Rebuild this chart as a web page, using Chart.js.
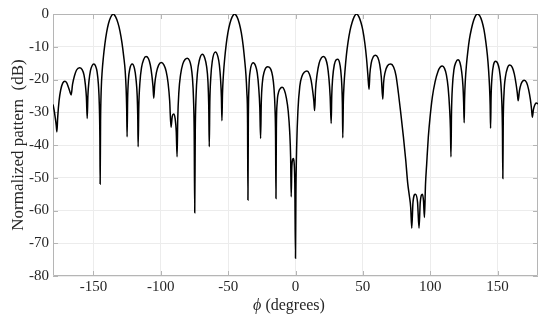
<!DOCTYPE html>
<html>
<head>
<meta charset="utf-8">
<script src="https://cdn.jsdelivr.net/npm/chart.js@4/dist/chart.umd.min.js"></script>
<style>
html,body{margin:0;padding:0;background:#fff;}
#wrap{width:550px;height:325px;position:relative;}
</style>
</head>
<body>
<div id="wrap"><canvas id="c"></canvas></div>
<script>
// angle (degrees)
const phi = [
-180,-179.2,-178.3,-177.6,-177.1,-176.5,-175.5,-174.3,-172.8,-171.2,-169.8,-168.6,-167.4,-166.5,
-165.5,-164,-162.5,-160.3,-158.5,-157,-156,-155.2,-154.6,
-154.1,-153.3,-152.2,-151,-149.7,-148.4,-147.3,-146.3,-145.6,-145.2,-145.0,
-144.7,-144.2,-143.5,-142.6,-141.5,-140.2,-138.8,-137.2,-135.3,-133.5,-131.8,-130.3,-128.8,-127.5,-126.4,-125.7,-125.3,-125.0,
-124.6,-124,-123,-121.2,-119.5,-118.4,-117.5,-117.1,-116.8,
-116.3,-115.5,-114.3,-112.7,-110.9,-109.2,-107.8,-106.6,-105.8,-105.2,
-104.5,-103.3,-101.6,-99.6,-97.6,-96,-94.6,-93.4,-92.4,
-91.5,-90.4,-89.4,-88.5,-87.9,
-87.4,-86.6,-85.3,-83.7,-82,-80.3,-78.7,-77.5,-76.5,-75.7,-75.2,-74.8,
-74.4,-73.8,-72.8,-71.4,-69.2,-67.3,-66,-65,-64.4,-64.0,
-63.6,-62.9,-61.8,-59.5,-57.6,-56.5,-55.6,-55.0,-54.6,
-54.2,-53.5,-52.6,-51.5,-50.2,-48.7,-47,-45.2,-43.4,-41.7,-40.2,-38.9,-37.8,-36.8,-36.1,-35.6,-35.3,
-35.0,-34.5,-33.6,-31.4,-29.6,-28.4,-27.3,-26.5,-25.9,
-25.4,-24.6,-23.2,-20.5,-18.3,-17,-16,-15.2,-14.8,-14.5,
-14.2,-13.6,-12.5,-11,-9.9,-8.3,-6.8,-5.4,-4.3,-3.6,-3.2,
-2.7,-1.6,-1.0,-0.5,0,
0.3,0.9,1.8,3.2,4.8,6.5,8.5,10.3,11.6,12.7,13.6,14.2,
14.9,16,17.5,19.2,20.8,22.4,23.7,24.8,25.7,26.5,
26.9,27.6,28.8,30.2,31.4,32.6,33.6,34.4,34.8,35.1,
35.5,36.1,36.8,37.8,39.0,40.5,42.0,43.6,45.3,47.0,48.6,50.0,51.5,52.7,53.7,54.6,
55.2,56.2,57.7,59.4,61.1,62.5,63.7,64.8,
65.4,66.5,68.3,70.7,72.8,74.6,76.4,78.2,80.1,81.8,83.3,84.5,85.5,86.3,
87.2,89.0,90.6,91.7,92.6,94.2,95.0,95.7,
96.5,97.4,98.6,99.9,101.6,103.6,105.7,107.5,109.0,110.6,112,113.3,114.4,115.0,115.4,
115.8,116.5,117.6,119,120.6,122.1,123.3,124.3,124.8,125.2,
125.5,126.1,126.9,127.9,129.1,130.6,132.2,133.7,135.2,136.8,138.4,139.9,141.2,142.4,143.3,144.0,144.5,144.8,
145.2,145.9,147,148.5,150,151.3,152.4,153.2,153.6,153.9,
154.2,154.8,155.8,157.3,159.1,160.9,162.4,163.7,164.6,165.3,
166.2,167.5,169.8,171.6,173,174.3,175.2,175.8,
176.6,177.6,178.7,180
];
// normalized pattern (dB)
const pattern = [
-27.6,-29.3,-31.8,-34,-36,-31.5,-26.5,-23.2,-21.1,-20.5,-21.0,-22.3,-23.8,-24.7,
-21.5,-18.8,-17.1,-16.4,-16.9,-18.6,-21.5,-25.5,-31.9,
-25,-20.5,-17.3,-15.8,-15.3,-15.9,-17.6,-21.5,-28,-38,-51.9,
-33,-23,-17.5,-13.2,-9.2,-5.6,-2.9,-1.0,0,-0.9,-2.7,-5.2,-8.8,-13,-17.5,-23,-29,-37.5,
-26,-20,-16.8,-15.3,-16.7,-19.8,-25,-31,-40.5,
-28,-21,-16.4,-13.9,-13.0,-13.6,-15.5,-18.8,-22,-25.7,
-21.5,-18,-15.6,-14.8,-15.6,-17.5,-21,-26.5,-34.6,
-31.3,-30.5,-31.8,-36,-43.6,
-32,-24,-18.5,-15.3,-13.9,-13.5,-14.2,-16,-19.5,-26,-36,-60.7,
-36,-25,-18,-14.2,-12.3,-13.5,-16,-20.5,-28,-40.5,
-27,-19.5,-14.5,-11.6,-13,-15.6,-20,-25.5,-32.6,
-24.5,-18.5,-13.8,-9.5,-5.8,-2.9,-0.9,0,-0.9,-2.9,-5.8,-9.5,-13.8,-18.5,-24,-32,-56.8,
-32,-22,-17.3,-14.9,-15.9,-18,-22.5,-28.5,-38.0,
-27,-21,-17.6,-16.1,-16.9,-19,-22.5,-29,-37,-56.3,
-35,-27,-23.8,-22.6,-22.4,-23.2,-25.6,-29.7,-36,-44,-55.8,
-46.5,-44.1,-45.5,-52,-74.6,
-55,-40,-29.5,-22,-19,-17.8,-17.4,-18.3,-20.3,-23.3,-26.5,-29.5,
-23,-18.5,-15.1,-13.4,-13.0,-13.7,-15.8,-19.6,-25,-33.4,
-25,-19.5,-15.5,-14.0,-13.8,-14.7,-17.3,-22,-27.5,-37.8,
-27,-21,-17,-12.5,-8.6,-5.0,-2.6,-0.8,0,-0.8,-2.6,-5.0,-9,-13.5,-18.5,-23.0,
-18.3,-15,-13.1,-12.6,-13.3,-15.4,-19.3,-26.0,
-21,-17.8,-15.8,-15.3,-16.2,-18.8,-24.2,-30.5,-37.5,-44.5,-51.7,-55.5,-59,-65.4,
-57.5,-55.0,-57.5,-65.4,-57.5,-55.0,-57,-62.1,
-52,-45.6,-37.5,-31.4,-25.3,-20.7,-17.6,-16.2,-15.9,-16.6,-18.6,-22.5,-29,-35,-43.6,
-30,-22,-17,-14.8,-14.0,-14.9,-17.5,-22,-27,-33.2,
-26,-20,-15.5,-11.5,-7.7,-4.5,-2.0,-0.5,0,-0.6,-2.2,-4.8,-8.3,-12.5,-17,-22,-28,-34.9,
-25,-19,-15.5,-14.4,-15.0,-17,-21,-27.5,-35,-50.2,
-33,-24,-19.3,-16.5,-15.6,-16.3,-18.3,-21.3,-24,-26.5,
-23.5,-21.3,-20.2,-21.0,-23,-26,-29,-31.5,
-29.2,-27.8,-27.2,-27.4
];
const xTicks = [-150,-100,-50,0,50,100,150];
const yTicks = [0,-10,-20,-30,-40,-50,-60,-70,-80];
const xTitle = ['\u03D5', ' (degrees)'];
const yTitle = 'Normalized pattern  (dB)';

const FONT = "'Liberation Serif','Times New Roman',serif";
const AXIS = '#b5b5b5';
const TEXT = '#262626';

const framePlugin = {
  id: 'frame',
  beforeDatasetsDraw(chart) {
    const {ctx, chartArea: a, scales: {x, y}} = chart;
    ctx.save();
    ctx.strokeStyle = AXIS;
    ctx.lineWidth = 1;
    ctx.beginPath();
    ctx.rect(Math.round(a.left) + 0.5, Math.round(a.top) + 0.5,
             Math.round(a.right - a.left) - 1, Math.round(a.bottom - a.top) - 1);
    const L = 5;
    xTicks.forEach(v => {
      const p = Math.round(x.getPixelForValue(v)) + 0.5;
      ctx.moveTo(p, a.bottom); ctx.lineTo(p, a.bottom - L);
      ctx.moveTo(p, a.top); ctx.lineTo(p, a.top + L);
    });
    yTicks.forEach(v => {
      const p = Math.round(y.getPixelForValue(v)) + 0.5;
      ctx.moveTo(a.left, p); ctx.lineTo(a.left + L, p);
      ctx.moveTo(a.right, p); ctx.lineTo(a.right - L, p);
    });
    ctx.stroke();
    ctx.restore();
  },
  afterDraw(chart) {
    const {ctx, chartArea: a} = chart;
    ctx.save();
    ctx.fillStyle = TEXT;
    ctx.textBaseline = 'middle';
    // x title
    ctx.font = 'italic 16px ' + FONT;
    const w1 = ctx.measureText(xTitle[0]).width;
    ctx.font = '16px ' + FONT;
    const w2 = ctx.measureText(xTitle[1]).width;
    const cx = 289;
    let sx = cx - (w1 + w2) / 2;
    ctx.textAlign = 'left';
    ctx.font = 'italic 16px ' + FONT;
    ctx.fillText(xTitle[0], sx, 306);
    ctx.font = '16px ' + FONT;
    ctx.fillText(xTitle[1], sx + w1, 306);
    // y title
    ctx.translate(18.5, (a.top + a.bottom) / 2);
    ctx.rotate(-Math.PI / 2);
    ctx.textAlign = 'center';
    ctx.font = '17px ' + FONT;
    ctx.fillText(yTitle, 0, 0);
    ctx.restore();
  }
};

new Chart(document.getElementById('c'), {
  type: 'line',
  data: {
    datasets: [{
      data: phi.map((v, i) => ({x: v, y: pattern[i]})),
      borderColor: '#000',
      borderWidth: 1.5,
      pointRadius: 0,
      fill: false,
      cubicInterpolationMode: 'monotone',
      tension: 0.4
    }]
  },
  options: {
    responsive: true,
    maintainAspectRatio: false,
    animation: false,
    devicePixelRatio: 1,
    layout: {padding: {left: 0, right: 12, top: 14, bottom: 0}},
    plugins: {legend: {display: false}, tooltip: {enabled: false}},
    scales: {
      x: {
        type: 'linear', min: -180, max: 180,
        afterBuildTicks: s => { s.ticks = xTicks.map(v => ({value: v})); },
        afterFit: s => { s.height = 49; },
        grid: {color: '#ececec', drawTicks: false, lineWidth: 1},
        border: {display: false},
        ticks: {color: TEXT, font: {family: FONT, size: 15}, padding: 2, maxRotation: 0,
                callback: v => String(v)}
      },
      y: {
        type: 'linear', min: -80, max: 0,
        afterBuildTicks: s => { s.ticks = yTicks.map(v => ({value: v})); },
        afterFit: s => { s.width = 53; },
        grid: {color: '#ececec', drawTicks: false, lineWidth: 1},
        border: {display: false},
        ticks: {color: TEXT, font: {family: FONT, size: 15}, padding: 4,
                callback: v => String(v)}
      }
    }
  },
  plugins: [framePlugin]
});
</script>
</body>
</html>
